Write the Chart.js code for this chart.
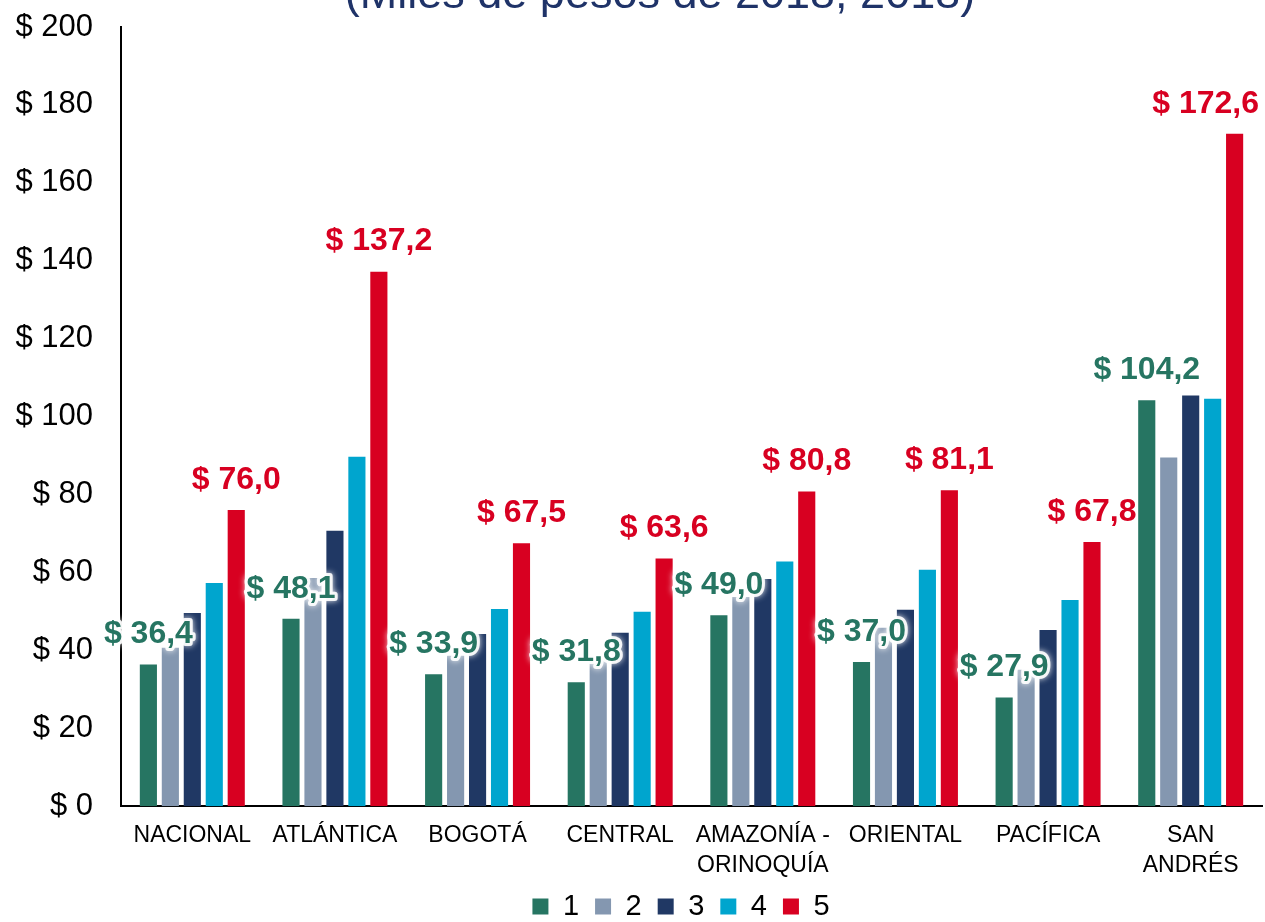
<!DOCTYPE html>
<html>
<head>
<meta charset="utf-8">
<script src="https://cdn.jsdelivr.net/npm/chart.js@4.4.1/dist/chart.umd.min.js"></script>
<style>
html,body{margin:0;padding:0;background:#fff;}
#wrap{width:1265px;height:922px;}
</style>
</head>
<body>
<div id="wrap"><canvas id="c" width="1265" height="922"></canvas></div>
<script>
const titleText = "(Miles de pesos de 2018, 2018)";
const categories = ["NACIONAL", "ATLÁNTICA", "BOGOTÁ", "CENTRAL", ["AMAZONÍA -", "ORINOQUÍA"], "ORIENTAL", "PACÍFICA", ["SAN", "ANDRÉS"]];
const seriesNames = ["1", "2", "3", "4", "5"];
const q1 = [36.4, 48.1, 33.9, 31.8, 49.0, 37.0, 27.9, 104.2];
const q2 = [40.7, 58.6, 38.6, 38.5, 53.7, 45.8, 35.0, 89.5];
const q3 = [49.6, 70.7, 44.2, 44.5, 58.3, 50.4, 45.2, 105.4];
const q4 = [57.3, 89.7, 50.6, 49.9, 62.8, 60.7, 52.9, 104.6];
const q5 = [76.0, 137.2, 67.5, 63.6, 80.8, 81.1, 67.8, 172.6];
const yTicks = [0, 20, 40, 60, 80, 100, 120, 140, 160, 180, 200];
const labeledSeries = [0, 4];

const colors = ["#267562", "#8497B0", "#203864", "#00A5CE", "#D80021"];
const labelColors = {0: "#267562", 4: "#D80021"};
const FONT = "'Liberation Sans', Arial, sans-serif";

function fmt(v){ return "$ " + v.toFixed(1).replace(".", ","); }

const labelPlugin = {
  id: "valLabels",
  afterDatasetsDraw(chart){
    const ctx = chart.ctx;
    labeledSeries.forEach(di => {
      const meta = chart.getDatasetMeta(di);
      const data = chart.data.datasets[di].data;
      meta.data.forEach((bar, i) => {
        const txt = fmt(data[i]);
        ctx.save();
        ctx.font = "bold 32px " + FONT;
        const w = ctx.measureText(txt).width;
        let x = bar.x;
        if (x + w / 2 > chart.width - 6) x = chart.width - 6 - w / 2;
        const y = bar.y - 30;
        ctx.textAlign = "center";
        ctx.textBaseline = "middle";
        if (di === 0) {
          ctx.shadowColor = "rgba(255,255,255,1)";
          ctx.shadowBlur = 6;
          ctx.strokeStyle = "rgba(255,255,255,0.9)";
          ctx.lineWidth = 6;
          ctx.lineJoin = "round";
          ctx.strokeText(txt, x, y);
          ctx.shadowBlur = 0;
        }
        ctx.fillStyle = labelColors[di];
        ctx.fillText(txt, x, y);
        ctx.restore();
      });
    });
  }
};

const layoutPlugin = {
  id: "cutTitle",
  beforeLayout(chart){
    const lg = chart.legend;
    if (lg && !lg._patched) {
      const origFit = lg.fit.bind(lg);
      lg.fit = function(){ origFit(); this.height = 26; };
      lg._patched = true;
    }
  },
  afterLayout(chart){
    const lg = chart.legend;
    if (lg) {
      lg.left += 50; lg.right += 50;
      lg.top -= 20;
      lg.bottom = chart.height;
      lg.height = lg.bottom - lg.top;
    }
  },
  afterDraw(chart){
    const ctx = chart.ctx;
    ctx.save();
    ctx.font = "45px " + FONT;
    ctx.fillStyle = "#1F3368";
    ctx.textAlign = "center";
    ctx.textBaseline = "alphabetic";
    ctx.fillText(titleText, 660, 8);
    ctx.restore();
  }
};

const allSeries = [q1, q2, q3, q4, q5];
new Chart(document.getElementById("c"), {
  type: "bar",
  data: {
    labels: categories,
    datasets: allSeries.map((d, i) => ({
      label: seriesNames[i],
      data: d,
      backgroundColor: colors[i],
      borderWidth: 0,
      categoryPercentage: 0.77,
      barPercentage: 0.78
    }))
  },
  options: {
    responsive: false,
    animation: false,
    devicePixelRatio: 1,
    layout: { padding: { left: 0, right: 3, top: 27, bottom: 0 } },
    plugins: {
      title: { display: false },
      tooltip: { enabled: false },
      legend: {
        display: true,
        position: "bottom",
        labels: {
          boxWidth: 16,
          boxHeight: 16,
          padding: 16,
          color: "#000",
          font: { family: FONT, size: 29 }
        }
      }
    },
    scales: {
      x: {
        grid: { display: false, drawTicks: false },
        border: { display: true, color: "#000", width: 2 },
        ticks: {
          color: "#000",
          font: { family: FONT, size: 23, lineHeight: 1.3 },
          padding: 15,
          maxRotation: 0,
          autoSkip: false
        }
      },
      y: {
        min: 0,
        max: 200,
        afterBuildTicks(axis){ axis.ticks = yTicks.map(v => ({value: v})); },
        afterFit(axis){ axis.width = 121; axis.paddingTop = 0; axis.paddingBottom = 0; },
        grid: { display: false, drawTicks: false },
        border: { display: true, color: "#000", width: 2 },
        ticks: {
          color: "#000",
          font: { family: FONT, size: 31 },
          padding: 28,
          callback: v => "$ " + v
        }
      }
    }
  },
  plugins: [labelPlugin, layoutPlugin]
});
</script>
</body>
</html>
